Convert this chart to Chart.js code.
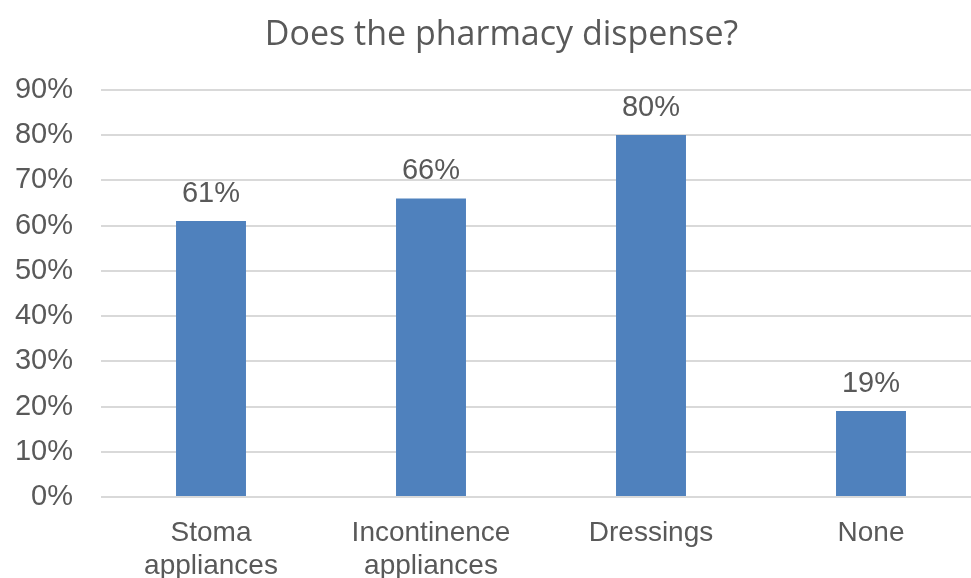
<!DOCTYPE html>
<html>
<head>
<meta charset="utf-8">
<script src="https://cdn.jsdelivr.net/npm/chart.js@4.4.0/dist/chart.umd.min.js"></script>
<style>
  html, body { margin: 0; padding: 0; background: #fff; overflow: hidden; }
  #wrap { width: 971px; height: 578px; overflow: hidden; }
</style>
</head>
<body>
<div id="wrap"><canvas id="chart" width="1005" height="578"></canvas></div>
<script>
const categories = [['Stoma', 'appliances'], ['Incontinence', 'appliances'], 'Dressings', 'None'];
const dispensed = [61, 66, 80, 19];
const yTicks = [0, 10, 20, 30, 40, 50, 60, 70, 80, 90];

const textColor = '#595959';
const fontFamily = '"Liberation Sans", Arial, sans-serif';

// draw the value above each bar
const valueLabels = {
	id: 'valueLabels',
	afterLayout(chart) {
		// the title sits a little right of the plot centre
		if (chart.titleBlock) chart.titleBlock.left += 22;
	},
	afterDatasetsDraw(chart) {
		const ctx = chart.ctx;
		const meta = chart.getDatasetMeta(0);
		ctx.save();
		ctx.font = '29px ' + fontFamily;
		ctx.fillStyle = textColor;
		ctx.textAlign = 'center';
		ctx.textBaseline = 'bottom';
		meta.data.forEach(function(bar, i) {
			ctx.fillText(dispensed[i] + '%', bar.x, bar.y - 13);
		});
		ctx.restore();
	}
};

new Chart(document.getElementById('chart'), {
	type: 'bar',
	data: {
		labels: categories,
		datasets: [{
			data: dispensed,
			backgroundColor: '#4F81BD',
			borderWidth: 0,
			categoryPercentage: 1,
			barPercentage: 0.318
		}]
	},
	options: {
		responsive: false,
		animation: false,
		layout: { padding: { right: 24 } },
		plugins: {
			legend: { display: false },
			tooltip: { enabled: false },
			title: {
				display: true,
				text: 'Does the pharmacy dispense?',
				color: textColor,
				font: { family: '"Open Sans", "Noto Sans", sans-serif', size: 34, weight: 'normal' },
				padding: { top: 15, bottom: 34 }
			}
		},
		scales: {
			x: {
				grid: { display: false },
				border: { display: false },
				ticks: {
					color: textColor,
					font: { family: fontFamily, size: 28, lineHeight: 1.18 },
					padding: 12,
					maxRotation: 0,
					autoSkip: false
				},
				afterFit(scale) { scale.height = 81; }
			},
			y: {
				min: 0,
				max: 90,
				afterBuildTicks(scale) {
					scale.ticks = yTicks.map(function(v) { return { value: v }; });
				},
				grid: { color: '#D9D9D9', lineWidth: 2, drawTicks: false },
				border: { display: false },
				ticks: {
					color: textColor,
					font: { family: fontFamily, size: 29 },
					padding: 28,
					callback: function(v) { return v + '%'; }
				},
				afterFit(scale) { scale.width = 101; }
			}
		}
	},
	plugins: [valueLabels]
});
</script>
</body>
</html>
